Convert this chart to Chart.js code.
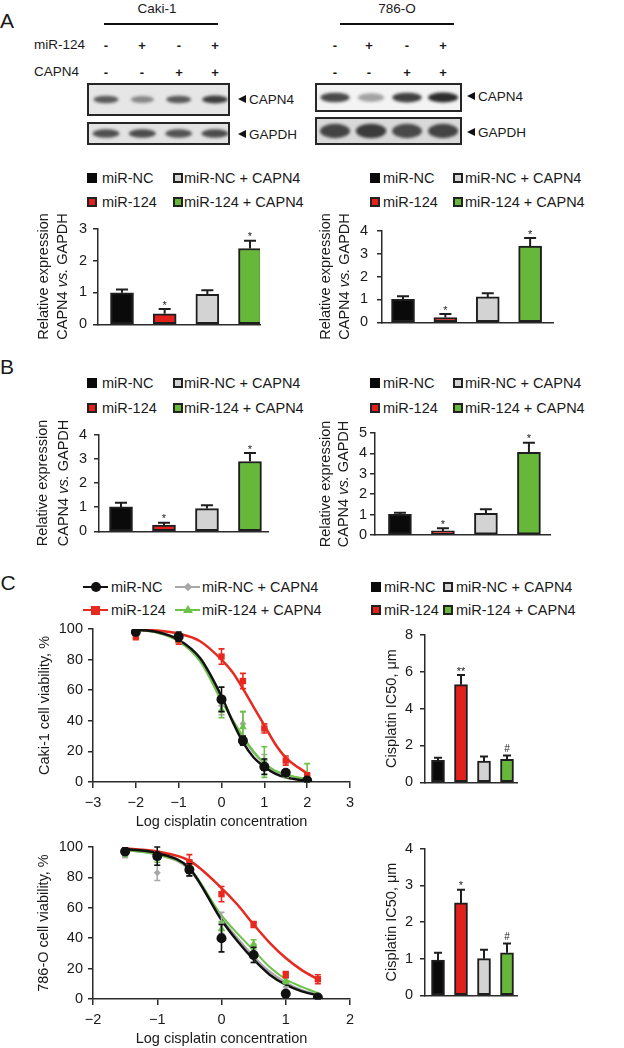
<!DOCTYPE html>
<html>
<head>
<meta charset="utf-8">
<title>miR-124 / CAPN4</title>
<script src="https://cdn.jsdelivr.net/npm/chart.js@4.4.1/dist/chart.umd.min.js"></script>
<style>
  html, body { margin: 0; padding: 0; background: #fff; }
  #fig { position: relative; width: 624px; height: 1048px; overflow: hidden;
         font-family: "Liberation Sans", Arial, sans-serif; color: #1a1a1a; }
  .txt { position: absolute; white-space: nowrap; line-height: 1; font-size: 14.5px; }
  .small { font-size: 13.5px; }
  .mid { transform: translate(-50%, -50%); }
  .lft { transform: translateY(-50%); }
  .panel { font-size: 21px; }
  .sign { font-weight: bold; font-size: 13px; }
  .box { position: absolute; box-sizing: border-box; border: 2px solid #262626; }
  .box canvas { display: block; }
  .rule { position: absolute; height: 2px; background: #111; }
  .sq { position: absolute; width: 10px; height: 10px; box-sizing: border-box; border: 2px solid #222; }
  .arrow { position: absolute; width: 0; height: 0; border-top: 4.5px solid transparent;
           border-bottom: 4.5px solid transparent; border-right: 8px solid #111; transform: translateY(-50%); }
  .plot { position: absolute; }
  .mk { position: absolute; }
</style>
</head>
<body>
<div id="fig"></div>
<script>
// groups, in bar order
const groups = ['miR-NC', 'miR-124', 'miR-NC + CAPN4', 'miR-124 + CAPN4'];
const mir124Signs = ['-', '+', '-', '+'];
const capn4Signs = ['-', '-', '+', '+'];

// western blot band strength per lane (0 none .. 1 darkest)
const cakiCapn4Band = [0.75, 0.5, 0.75, 0.9];
const cakiGapdhBand = [0.8, 0.82, 0.78, 0.82];
const o786Capn4Band = [0.85, 0.4, 0.9, 1.0];
const o786GapdhBand = [0.85, 0.9, 0.82, 0.85];

// relative expression, CAPN4 vs. GAPDH (mean, sd)
const aCaki = [0.99, 0.33, 0.94, 2.38];
const aCakiSd = [0.1, 0.15, 0.13, 0.24];
const a786 = [1.0, 0.21, 1.11, 3.33];
const a786Sd = [0.14, 0.15, 0.16, 0.35];
const bCaki = [1.01, 0.26, 0.94, 2.89];
const bCakiSd = [0.17, 0.09, 0.14, 0.35];
const b786 = [1.01, 0.2, 1.06, 4.05];
const b786Sd = [0.08, 0.13, 0.2, 0.47];
const exprSig = ['', '*', '', '*'];

// cisplatin IC50, um
const icCaki = [1.19, 5.29, 1.15, 1.24];
const icCakiSd = [0.14, 0.52, 0.25, 0.21];
const icCakiSig = ['', '**', '', '#'];
const ic786 = [0.96, 2.52, 1.0, 1.16];
const ic786Sd = [0.2, 0.36, 0.24, 0.25];
const ic786Sig = ['', '*', '', '#'];

// dose response, series in legend order
const doseSeries = ['miR-NC', 'miR-NC + CAPN4', 'miR-124', 'miR-124 + CAPN4'];

// Caki-1 viability, %
const cakiDoseX = [-2, -1, 0, 0.5, 1, 1.5, 2];
const cakiNC = [98, 95, 54, 27, 10, 6, 1];
const cakiNCSd = [1, 3, 8, 3, 5, 2, 1];
const cakiNCCapn4 = [97, 93, 50, 38, 14, 5, 2];
const cakiNCCapn4Sd = [1, 2, 6, 8, 4, 2, 1];
const caki124 = [95, 93, 82, 66, 35, 14, 4];
const caki124Sd = [2, 3, 5, 5, 3, 3, 2];
const caki124Capn4 = [97, 93, 47, 36, 13, 5, 4];
const caki124Capn4Sd = [1, 2, 5, 10, 10, 2, 8];
// fitted curves
const cakiFitX = [-2, -1.5, -1, -0.5, 0, 0.25, 0.5, 0.75, 1, 1.25, 1.5, 2];
const cakiFitNC = [99.5, 98, 93, 81, 56, 40, 26, 16, 10, 5.5, 3, 0.7];
const cakiFitNCCapn4 = [99.5, 97.5, 92, 79, 54, 41, 29, 19, 12, 7, 4.5, 1.5];
const cakiFit124 = [99.5, 99, 97, 92, 80, 72, 61, 49, 37, 25, 16, 5.5];
const cakiFit124Capn4 = [99.5, 97.5, 92, 79, 53, 41, 30, 20, 12.5, 7.5, 5, 1.8];

// 786-O viability, %
const o786DoseX = [-1.5, -1, -0.5, 0, 0.5, 1, 1.5];
const o786NC = [97, 94, 85, 40, 29, 3.5, 1];
const o786NCSd = [2, 6, 4, 9, 5, 1, 1];
const o786NCCapn4 = [95, 83, 84, 50, 30, 6, 2];
const o786NCCapn4Sd = [2, 5, 3, 7, 6, 2, 1];
const o786124 = [98.5, 95, 90, 69, 49, 16, 13];
const o786124Sd = [1, 2, 5, 5, 2, 2, 3];
const o786124Capn4 = [96, 93, 86, 46, 36, 12, 2];
const o786124Capn4Sd = [2, 3, 3, 5, 3, 2, 1];
const o786FitX = [-1.5, -1, -0.5, 0, 0.25, 0.5, 0.75, 1, 1.25, 1.5];
const o786FitNC = [98.7, 96, 86, 52, 38, 26, 16, 9.4, 5, 2.4];
const o786FitNCCapn4 = [98, 95, 85, 53, 40, 28, 18, 11, 6, 3];
const o786Fit124 = [99, 97, 91, 73, 62, 49, 37, 27, 19, 13];
const o786Fit124Capn4 = [98, 95, 86, 55, 43, 32, 21, 13, 8, 4];

// styles
const groupColors = ['#0a0a0a', '#e3211c', '#d3d3d3', '#67b73a'];
const doseColors = ['#111111', '#a8a8a8', '#e8291f', '#6cc24a'];
const doseMarkers = ['circle', 'rectRot', 'rect', 'triangle'];
const doseMarkerR = [5, 3.5, 4.5, 4.5];
const doseLineW = [2.5, 2, 2.5, 2];
const doseLayer = [1, 4, 2, 3];
const axisColor = '#2b2b2b';
const inkColor = '#1a1a1a';

Chart.defaults.font.family = '"Liberation Sans", Arial, sans-serif';
Chart.defaults.font.size = 14.5;
Chart.defaults.color = inkColor;

const fig = document.getElementById('fig');

function addText(str, x, y, cls) {
    const d = document.createElement('div');
    d.className = 'txt ' + (cls || '');
    d.textContent = str;
    d.style.left = x + 'px';
    d.style.top = y + 'px';
    fig.appendChild(d);
    return d;
}

function addDiv(cls, css) {
    const d = document.createElement('div');
    d.className = cls;
    Object.assign(d.style, css);
    fig.appendChild(d);
    return d;
}

function mount(left, top, width, height) {
    const wrap = addDiv('plot', {left: left + 'px', top: top + 'px', width: width + 'px', height: height + 'px'});
    const c = document.createElement('canvas');
    c.width = width;
    c.height = height;
    wrap.appendChild(c);
    return c;
}

// rotated axis title with italic parts
const yTitlePlugin = {
    id: 'ytitle',
    afterDraw(chart, args, opts) {
        if (!opts || !opts.lines) return;
        const {ctx, chartArea} = chart;
        const cy = (chartArea.top + chartArea.bottom) / 2;
        const fam = Chart.defaults.font.family;
        opts.lines.forEach((parts, k) => {
            ctx.save();
            ctx.translate(opts.xs[k], cy);
            ctx.rotate(-Math.PI / 2);
            ctx.fillStyle = inkColor;
            ctx.textBaseline = 'middle';
            ctx.textAlign = 'left';
            let total = 0;
            parts.forEach(p => {
                ctx.font = (p.it ? 'italic ' : '') + '14.5px ' + fam;
                total += ctx.measureText(p.t).width;
            });
            let pos = -total / 2;
            parts.forEach(p => {
                ctx.font = (p.it ? 'italic ' : '') + '14.5px ' + fam;
                ctx.fillText(p.t, pos, 0);
                pos += ctx.measureText(p.t).width;
            });
            ctx.restore();
        });
    }
};

// error bars + significance marks, from the dataset's own elements
const errBarPlugin = {
    id: 'errbars',
    afterDatasetDraw(chart, args) {
        const ds = chart.data.datasets[args.index];
        if (!ds.sd) return;
        const ctx = chart.ctx;
        const y = chart.scales.y;
        ctx.save();
        ctx.strokeStyle = ds.errColor || '#1e1e1e';
        ctx.lineWidth = ds.errWidth || 2;
        args.meta.data.forEach((el, i) => {
            const v = ds.data[i].y;
            const e = ds.sd[i];
            const hi = y.getPixelForValue(v + e);
            const lo = ds.twoSided ? y.getPixelForValue(Math.max(0, v - e)) : el.y;
            const half = ds.capW / 2;
            ctx.beginPath();
            ctx.moveTo(el.x, lo);
            ctx.lineTo(el.x, hi);
            ctx.moveTo(el.x - half, hi);
            ctx.lineTo(el.x + half, hi);
            if (ds.twoSided) {
                ctx.moveTo(el.x - half, lo);
                ctx.lineTo(el.x + half, lo);
            }
            ctx.stroke();
            const mark = ds.sig && ds.sig[i];
            if (mark) {
                ctx.fillStyle = inkColor;
                ctx.textAlign = 'center';
                ctx.textBaseline = 'alphabetic';
                const hash = mark.startsWith('#');
                ctx.font = (hash ? '10px ' : '11px ') + Chart.defaults.font.family;
                ctx.fillText(mark, el.x, hi - (hash ? 4 : 0.5));
            }
        });
        ctx.restore();
    }
};

// western blot bands
const bandPlugin = {
    id: 'bands',
    afterDatasetDraw(chart, args) {
        const ds = chart.data.datasets[args.index];
        if (!ds.bandW) return;
        const ctx = chart.ctx;
        args.meta.data.forEach((el, i) => {
            const s = ds.data[i].s;
            ctx.save();
            ctx.filter = 'blur(1.5px)';
            ctx.fillStyle = `rgba(22,22,22,${0.9 * s})`;
            ctx.beginPath();
            ctx.ellipse(el.x, el.y, ds.bandW / 2 * (0.8 + 0.2 * s), ds.bandH / 2 * (0.75 + 0.25 * s), 0, 0, Math.PI * 2);
            ctx.fill();
            ctx.restore();
        });
    }
};

Chart.register(yTitlePlugin, errBarPlugin, bandPlugin);

function makeBlot(o) {
    const box = addDiv('box', {left: o.left + 'px', top: o.top + 'px', width: o.w + 'px', height: o.h + 'px', background: o.bg});
    const c = document.createElement('canvas');
    c.width = o.w - 4;
    c.height = o.h - 4;
    box.appendChild(c);
    return new Chart(c, {
        type: 'scatter',
        data: {
            datasets: [{
                data: o.strength.map((s, i) => ({x: i + 1, y: 0.5, s})),
                pointRadius: 0,
                bandW: o.bandW,
                bandH: o.bandH
            }]
        },
        options: {
            responsive: false, animation: false, events: [],
            layout: {padding: 0},
            plugins: {legend: {display: false}, tooltip: {enabled: false}},
            scales: {
                x: {type: 'linear', display: false, min: o.xMin, max: o.xMax},
                y: {display: false, min: 0, max: 1}
            }
        }
    });
}

function makeBarChart(o) {
    const padT = 14, padB = 12, padR = 10;
    const yW = o.axisX - o.left;
    const canvas = mount(o.left, o.plotTop - padT, yW + o.plotW + padR, padT + o.plotH + padB);
    return new Chart(canvas, {
        type: 'bar',
        data: {
            datasets: [{
                data: o.values.map((v, i) => ({x: i + 1, y: v})),
                backgroundColor: groupColors,
                borderColor: '#1e1e1e',
                borderWidth: 2,
                borderSkipped: false,
                barThickness: o.barW,
                sd: o.sd,
                sig: o.sig,
                capW: o.capW
            }]
        },
        options: {
            responsive: false, animation: false, events: [],
            layout: {padding: {top: padT, right: padR, bottom: padB, left: 0}},
            plugins: {
                legend: {display: false},
                tooltip: {enabled: false},
                ytitle: {lines: o.titleLines, xs: o.titleXs.map(x => x - o.left)}
            },
            scales: {
                x: {
                    type: 'linear', min: o.xMin, max: o.xMax, offset: false,
                    grid: {display: false}, ticks: {display: false},
                    border: {display: true, color: axisColor, width: 1.5},
                    afterFit: s => { s.height = 0; }
                },
                y: {
                    min: 0, max: o.yMax,
                    ticks: {stepSize: o.step, padding: o.tickPad, color: inkColor},
                    grid: {drawOnChartArea: false, tickLength: 5, color: axisColor, lineWidth: 1.5},
                    border: {display: true, color: axisColor, width: 1.5},
                    afterFit: s => { s.width = yW; }
                }
            }
        }
    });
}

function makeDoseChart(o) {
    const padT = 14, padR = 12, xH = 49;
    const yW = o.axisX - o.left;
    const canvas = mount(o.left, o.plotTop - padT, yW + o.plotW + padR, padT + o.plotH + xH);
    const fitSets = o.fits.map((f, k) => ({
        type: 'line',
        data: o.fitX.map((x, i) => ({x, y: f[i]})),
        borderColor: doseColors[k],
        borderWidth: doseLineW[k],
        pointRadius: 0,
        cubicInterpolationMode: 'monotone',
        fill: false,
        order: 10 + doseLayer[k]
    }));
    const ptSets = o.pts.map((p, k) => ({
        type: 'scatter',
        data: o.ptX.map((x, i) => ({x, y: p[i]})),
        backgroundColor: doseColors[k],
        borderColor: doseColors[k],
        borderWidth: 0,
        pointStyle: doseMarkers[k],
        pointRadius: doseMarkerR[k],
        showLine: false,
        sd: o.sds[k],
        twoSided: true,
        capW: 6,
        errWidth: 1.6,
        errColor: doseColors[k],
        order: doseLayer[k]
    }));
    return new Chart(canvas, {
        type: 'scatter',
        data: {datasets: fitSets.concat(ptSets)},
        options: {
            responsive: false, animation: false, events: [],
            layout: {padding: {top: padT, right: padR, bottom: 0, left: 0}},
            plugins: {legend: {display: false}, tooltip: {enabled: false}},
            scales: {
                x: {
                    type: 'linear', min: o.xMin, max: o.xMax,
                    ticks: {stepSize: 1, padding: 6, color: inkColor,
                        callback: v => (v < 0 ? '\u2212' + Math.abs(v) : String(v))},
                    grid: {drawOnChartArea: false, tickLength: 6, color: axisColor, lineWidth: 1.5},
                    border: {display: true, color: axisColor, width: 1.5},
                    title: {display: true, text: 'Log cisplatin concentration', color: inkColor, padding: {top: 0, bottom: 0}},
                    afterFit: s => { s.height = xH; }
                },
                y: {
                    min: 0, max: 100,
                    ticks: {stepSize: 20, padding: 5, color: inkColor},
                    grid: {drawOnChartArea: false, tickLength: 5, color: axisColor, lineWidth: 1.5},
                    border: {display: true, color: axisColor, width: 1.5},
                    title: {display: true, text: o.yTitle, color: inkColor, padding: {top: o.yTitlePad, bottom: 0}},
                    afterFit: s => { s.width = yW; }
                }
            }
        }
    });
}

function barLegend(cols, rows) {
    const layout = [[0, 2], [1, 3]];
    layout.forEach((row, r) => row.forEach((g, c) => {
        addDiv('sq', {left: cols[c][0] + 'px', top: (rows[r] - 5) + 'px', background: groupColors[g],
            borderColor: g === 0 ? groupColors[0] : '#222'});
        addText(groups[g], cols[c][1], rows[r], 'lft');
    }));
}

function marker(k, x, y) {
    const c = doseColors[k];
    if (doseMarkers[k] === 'circle') {
        addDiv('mk', {left: (x - 5) + 'px', top: (y - 5) + 'px', width: '10px', height: '10px', borderRadius: '50%', background: c});
    } else if (doseMarkers[k] === 'rect') {
        addDiv('mk', {left: (x - 4.5) + 'px', top: (y - 4.5) + 'px', width: '9px', height: '9px', background: c});
    } else if (doseMarkers[k] === 'rectRot') {
        addDiv('mk', {left: (x - 3) + 'px', top: (y - 3) + 'px', width: '6px', height: '6px', background: c, transform: 'rotate(45deg)'});
    } else {
        addDiv('mk', {left: (x - 5) + 'px', top: (y - 5) + 'px', width: 0, height: 0,
            borderLeft: '5px solid transparent', borderRight: '5px solid transparent', borderBottom: '8px solid ' + c});
    }
}

function doseLegend(cols, rows) {
    const layout = [[0, 1], [2, 3]];
    layout.forEach((row, r) => row.forEach((k, c) => {
        const [x0, x1, tx] = cols[c];
        addDiv('mk', {left: x0 + 'px', top: (rows[r] - 1.25) + 'px', width: (x1 - x0) + 'px', height: '2.5px', background: doseColors[k]});
        marker(k, (x0 + x1) / 2, rows[r]);
        addText(doseSeries[k], tx, rows[r], 'lft');
    }));
}

// ---- panel letters ----
addText('A', 7, 20, 'mid panel');
addText('B', 7, 366, 'mid panel');
addText('C', 8, 582, 'mid panel');

// ---- A: western blots ----
const cakiLanes = [106, 142, 179, 215];
const o786Lanes = [335, 369, 407, 443];
addText('Caki-1', 157, 9, 'mid small');
addDiv('rule', {left: '104px', top: '23px', width: '114px'});
addText('786-O', 397, 9, 'mid small');
addDiv('rule', {left: '340px', top: '23px', width: '114px'});
addText('miR-124', 34, 45, 'lft small');
addText('CAPN4', 34, 72, 'lft small');
mir124Signs.forEach((s, i) => {
    addText(s, cakiLanes[i], 45, 'mid sign');
    addText(s, o786Lanes[i], 45, 'mid sign');
});
capn4Signs.forEach((s, i) => {
    addText(s, cakiLanes[i], 72, 'mid sign');
    addText(s, o786Lanes[i], 72, 'mid sign');
});

makeBlot({left: 87, top: 83, w: 143, h: 33, bg: '#e6e6e6', strength: cakiCapn4Band, xMin: 0.532, xMax: 4.358, bandW: 26, bandH: 8});
makeBlot({left: 87, top: 122, w: 143, h: 23, bg: '#e2e2e2', strength: cakiGapdhBand, xMin: 0.532, xMax: 4.358, bandW: 28, bandH: 9});
makeBlot({left: 315, top: 83, w: 147, h: 29, bg: '#f3f3f3', strength: o786Capn4Band, xMin: 0.5, xMax: 4.47, bandW: 30, bandH: 10});
makeBlot({left: 315, top: 117, w: 147, h: 28, bg: '#d9d9d9', strength: o786GapdhBand, xMin: 0.5, xMax: 4.47, bandW: 31, bandH: 15});

[[238, 99, 'CAPN4'], [238, 134, 'GAPDH'], [467, 96, 'CAPN4'], [467, 132, 'GAPDH']].forEach(([x, y, t]) => {
    addDiv('arrow', {left: x + 'px', top: y + 'px'});
    addText(t, x + 11, y + 1, 'lft small');
});

const exprTitle = [[{t: 'Relative expression'}], [{t: 'CAPN4 '}, {t: 'vs.', it: true}, {t: ' GAPDH'}]];

// ---- A: bar charts ----
barLegend([[87, 102], [173, 184]], [178, 202]);
barLegend([[370, 383], [453, 465]], [178, 202]);
makeBarChart({left: 20, axisX: 98, plotW: 162, plotTop: 228, plotH: 99, yMax: 3, step: 1, tickPad: 6,
    xMin: 0.4375, xMax: 4.234, values: aCaki, sd: aCakiSd, sig: exprSig, barW: 23, capW: 12,
    titleLines: exprTitle, titleXs: [44, 63]});
makeBarChart({left: 305, axisX: 382, plotW: 171, plotTop: 227, plotH: 101, yMax: 4, step: 1, tickPad: 9,
    xMin: 0.504, xMax: 4.54, values: a786, sd: a786Sd, sig: exprSig, barW: 23, capW: 12,
    titleLines: exprTitle, titleXs: [326, 345]});

// ---- B ----
barLegend([[87, 102], [173, 184]], [383, 408]);
barLegend([[370, 383], [453, 465]], [383, 408]);
makeBarChart({left: 20, axisX: 99, plotW: 169, plotTop: 433, plotH: 102, yMax: 4, step: 1, tickPad: 7,
    xMin: 0.488, xMax: 4.42, values: bCaki, sd: bCakiSd, sig: exprSig, barW: 23, capW: 12,
    titleLines: exprTitle, titleXs: [43, 64]});
makeBarChart({left: 305, axisX: 375, plotW: 175, plotTop: 433, plotH: 102, yMax: 5, step: 1, tickPad: 3,
    xMin: 0.42, xMax: 4.49, values: b786, sd: b786Sd, sig: exprSig, barW: 23, capW: 12,
    titleLines: exprTitle, titleXs: [326, 344]});

// ---- C ----
doseLegend([[83, 108, 111], [175, 200, 202]], [587, 610]);
barLegend([[371, 384], [443, 456]], [587, 610]);

makeDoseChart({left: 30, axisX: 93, plotW: 257, plotTop: 629, plotH: 153, xMin: -3, xMax: 3,
    yTitle: 'Caki-1 cell viability, %', yTitlePad: 6.3,
    fitX: cakiFitX, fits: [cakiFitNC, cakiFitNCCapn4, cakiFit124, cakiFit124Capn4],
    ptX: cakiDoseX, pts: [cakiNC, cakiNCCapn4, caki124, caki124Capn4],
    sds: [cakiNCSd, cakiNCCapn4Sd, caki124Sd, caki124Capn4Sd]});
makeDoseChart({left: 30, axisX: 93, plotW: 257, plotTop: 847, plotH: 152, xMin: -2, xMax: 2,
    yTitle: '786-O cell viability, %', yTitlePad: 4.8,
    fitX: o786FitX, fits: [o786FitNC, o786FitNCCapn4, o786Fit124, o786Fit124Capn4],
    ptX: o786DoseX, pts: [o786NC, o786NCCapn4, o786124, o786124Capn4],
    sds: [o786NCSd, o786NCCapn4Sd, o786124Sd, o786124Capn4Sd]});

const icTitle = [[{t: 'Cisplatin IC50, \u03bcm'}]];
makeBarChart({left: 380, axisX: 425, plotW: 92, plotTop: 633, plotH: 153, yMax: 8, step: 2, tickPad: 7,
    xMin: 0.435, xMax: 4.435, values: icCaki, sd: icCakiSd, sig: icCakiSig, barW: 13, capW: 8,
    titleLines: icTitle, titleXs: [392]});
makeBarChart({left: 380, axisX: 425, plotW: 92, plotTop: 847, plotH: 152, yMax: 4, step: 1, tickPad: 7,
    xMin: 0.435, xMax: 4.435, values: ic786, sd: ic786Sd, sig: ic786Sig, barW: 13, capW: 8,
    titleLines: icTitle, titleXs: [392]});
</script>
</body>
</html>
